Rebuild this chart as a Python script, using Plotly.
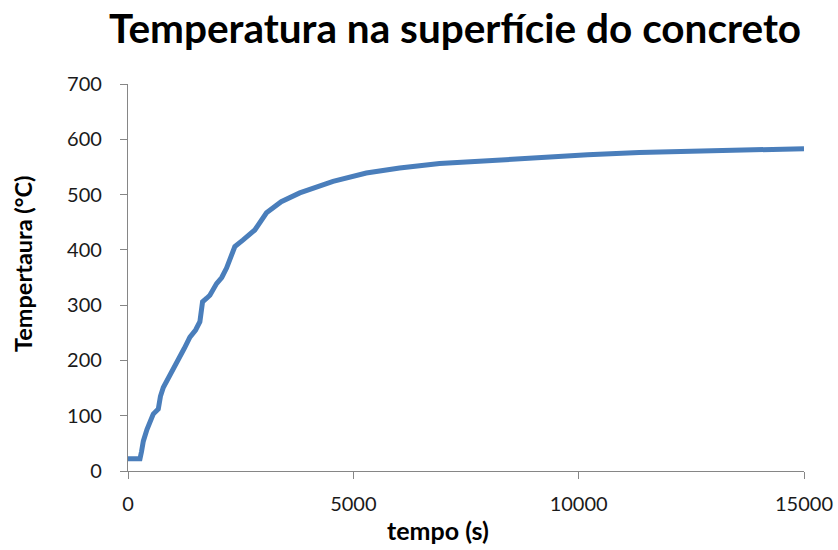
import plotly.graph_objects as go

tempo_s = [0, 100, 266, 300, 340, 420, 487, 560, 672, 720, 783, 900, 1078, 1250, 1374, 1500, 1595, 1630, 1654,
           1740, 1817, 1965, 2080, 2187, 2300, 2371, 2555, 2814, 3073, 3400, 3811, 4200, 4550, 5288, 6027,
           6914, 8000, 9130, 10200, 11346, 12500, 13562, 14300, 15000]
temperatura = [22, 22, 22, 35, 54, 75, 91, 103, 112, 135, 151, 170, 194, 222, 242, 255, 270, 285, 306,
               312, 318, 339, 350, 367, 390, 406, 418, 436, 467, 487, 503, 515, 524, 539, 548,
               556, 562, 568, 572, 576, 578, 580, 581, 583]

x_ticks = [0, 5000, 10000, 15000]
x_ticktext = ["0", "5000", "10000", "15000"]
y_ticks = [0, 100, 200, 300, 400, 500, 600, 700]

titulo = "Temperatura na superfície do concreto"
titulo_x = "tempo (s)"
titulo_y = "Tempertaura (°C)"

FONT = "Lato"

fig = go.Figure()
fig.add_trace(go.Scatter(x=tempo_s, y=temperatura, mode="lines",
                         line=dict(color="#4a7ebb", width=5), showlegend=False))

axis_common = dict(showgrid=False, zeroline=False, showline=True, linecolor="#868686", linewidth=1.3,
                   ticks="outside", ticklen=7, tickcolor="#868686", tickwidth=1.3, automargin=False,
                   tickfont=dict(family=FONT, size=20, color="#1a1a1a"))

fig.update_layout(
    width=838, height=550,
    paper_bgcolor="white", plot_bgcolor="white",
    margin=dict(l=128, r=34, t=84, b=79),
    title=dict(text="<b>" + titulo + "</b>", x=0.543, xanchor="center", y=0.947, yanchor="middle",
               font=dict(family=FONT, size=40.5, color="black")),
    xaxis=dict(range=[0, 15000], tickvals=x_ticks, ticktext=x_ticktext, ticklabelstandoff=8,
               **axis_common),
    yaxis=dict(range=[0, 700], tickvals=y_ticks, ticklabelstandoff=14,
               **axis_common),
    annotations=[
        dict(text="<b>" + titulo_x + "</b>", xref="paper", yref="paper", x=0.4586, y=-0.1525,
             xanchor="center", yanchor="middle", showarrow=False,
             font=dict(family=FONT, size=25, color="black")),
        dict(text="<b>" + titulo_y + "</b>", xref="paper", yref="paper", x=-0.1553, y=0.535,
             xanchor="center", yanchor="middle", showarrow=False, textangle=-90,
             font=dict(family=FONT, size=23.5, color="black")),
    ],
)

fig.write_html("out.html", config={"displayModeBar": False},
               post_script="document.body.style.margin='0';")
